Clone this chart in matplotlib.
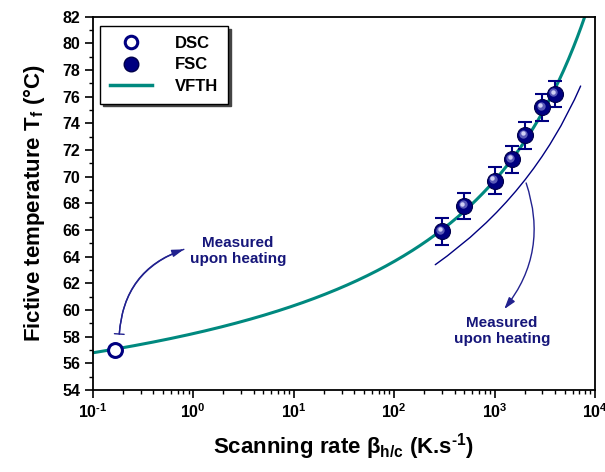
import numpy as np
import matplotlib
matplotlib.use("Agg")
import matplotlib.pyplot as plt
from matplotlib.lines import Line2D
from matplotlib import transforms

plt.rcParams['font.family'] = ['Liberation Sans', 'DejaVu Sans']
plt.rcParams['font.weight'] = 'bold'
plt.rcParams['mathtext.fontset'] = 'custom'
plt.rcParams['mathtext.rm'] = 'Liberation Sans:bold'
plt.rcParams['mathtext.it'] = 'Liberation Sans:bold'
plt.rcParams['mathtext.bf'] = 'Liberation Sans:bold'
plt.rcParams['mathtext.sf'] = 'Liberation Sans:bold'

# ---- data ----
dsc_rate = [0.167]
dsc_tf = [57.0]

fsc_rate = [300, 500, 1000, 1500, 2000, 3000, 4000]
fsc_tf = [65.9, 67.8, 69.7, 71.3, 73.1, 75.2, 76.2]
fsc_err = [1.0, 1.0, 1.0, 1.0, 1.0, 1.0, 1.0]

# VFTH fit parameters: Tf = T0 + B / (lnA - ln(beta))
vfth_T0 = 49.0
vfth_lnA = 12.46
vfth_B = 115.0

# guide line (annotation) end points
guide_rate = [257, 7190]
guide_tf = [63.4, 76.8]

xticks = [0.1, 1, 10, 100, 1000, 10000]
xtick_labels = [r'$\mathbf{10^{\text{-}1}}$', r'$\mathbf{10^{0}}$', r'$\mathbf{10^{1}}$',
                r'$\mathbf{10^{2}}$', r'$\mathbf{10^{3}}$', r'$\mathbf{10^{4}}$']
yticks = list(range(54, 83, 2))

navy = '#000080'
teal = '#00897F'
txtc = '#16167a'

fig = plt.figure(figsize=(6.05, 4.72), dpi=100)
ax = fig.add_axes([0.1532, 0.1737, 0.8303, 0.7909])

# VFTH curve
beta = np.logspace(-1, 4, 400)
tf_fit = vfth_T0 + vfth_B / (vfth_lnA - np.log(beta))
ax.plot(beta, tf_fit, color=teal, lw=2.2, zorder=2)

# DSC
ax.plot(dsc_rate, dsc_tf, 'o', ms=10, mfc='white', mec=navy, mew=2.2, zorder=4)

# FSC
ax.errorbar(fsc_rate, fsc_tf, yerr=fsc_err, fmt='none', ecolor=navy,
            elinewidth=1.5, capsize=5, capthick=1.5, zorder=3)
ax.plot(fsc_rate, fsc_tf, 'o', ms=11.5, mfc=navy, mec='#00004a', mew=0.8, zorder=4)
hl1 = transforms.offset_copy(ax.transData, fig=fig, x=-1.3, y=1.3, units='points')
ax.plot(fsc_rate, fsc_tf, 'o', ms=6, mfc='#5a5ab8', mec='none', transform=hl1, zorder=5)
hl = transforms.offset_copy(ax.transData, fig=fig, x=-1.6, y=1.6, units='points')
ax.plot(fsc_rate, fsc_tf, 'o', ms=3.2, mfc='#d0d0f4', mec='none', transform=hl, zorder=6)

# guide line
ax.annotate('', xy=(guide_rate[1], guide_tf[1]), xytext=(guide_rate[0], guide_tf[0]),
            arrowprops=dict(arrowstyle='-', color=navy, lw=1.0,
                            connectionstyle='arc3,rad=0.14',
                            shrinkA=0, shrinkB=0))

# arrow 1 (DSC -> text)
ap1 = dict(color='#22228f', lw=1.0, connectionstyle='arc3,rad=-0.33', shrinkA=0, shrinkB=0)
ax.annotate('', xy=(0.808, 64.55), xytext=(0.184, 58.2),
            arrowprops=dict(arrowstyle='-|>,head_length=0.7,head_width=0.22', **ap1))
ax.annotate('', xy=(0.808, 64.55), xytext=(0.184, 58.2),
            arrowprops=dict(arrowstyle=']-,widthA=0.35,lengthA=0', **ap1))

# arrow 2 (guide -> text)
ax.annotate('', xy=(1250, 60.07), xytext=(2062, 69.53),
            arrowprops=dict(arrowstyle='-|>,head_length=0.7,head_width=0.22',
                            color='#22228f', lw=1.0,
                            connectionstyle='arc3,rad=-0.27', shrinkA=0, shrinkB=0))

ax.text(0.289, 0.372, 'Measured\nupon heating', transform=ax.transAxes,
        ha='center', va='center', fontsize=11, color=txtc, fontweight='bold',
        linespacing=1.2)
ax.text(0.815, 0.158, 'Measured\nupon heating', transform=ax.transAxes,
        ha='center', va='center', fontsize=11, color=txtc, fontweight='bold',
        linespacing=1.2)

ax.set_xscale('log')
ax.set_xlim(0.1, 10000)
ax.set_ylim(54, 82)
ax.set_xticks(xticks)
ax.set_xticklabels(xtick_labels)
ax.set_yticks(yticks)
ax.set_yticklabels([str(v) for v in yticks])
ax.yaxis.set_minor_locator(matplotlib.ticker.MultipleLocator(1))
ax.xaxis.set_minor_locator(matplotlib.ticker.LogLocator(base=10, subs=np.arange(2, 10)))
ax.xaxis.set_minor_formatter(matplotlib.ticker.NullFormatter())
ax.tick_params(axis='both', which='major', direction='out', length=6, width=1.2,
               labelsize=11.5, top=False, right=False, pad=3)
ax.tick_params(axis='both', which='minor', direction='out', length=3, width=1.0,
               top=False, right=False)
for s in ax.spines.values():
    s.set_linewidth(1.3)

ax.set_xlabel(r'Scanning rate $\beta_{\mathrm{h/c}}$ (K.s$^{\text{-}\mathrm{1}}$)', fontsize=16,
              fontweight='bold', labelpad=7)
ax.set_ylabel(r'Fictive temperature T$_{\mathrm{f}}$ (°C)', fontsize=16,
              fontweight='bold', labelpad=11)

handles = [
    Line2D([], [], ls='none', marker='o', ms=9, mfc='white', mec=navy, mew=2.2),
    Line2D([], [], ls='none', marker='o', ms=10.5, mfc=navy, mec='#00004a'),
    Line2D([], [], color=teal, lw=2.5),
]
leg = ax.legend(handles, ['DSC', 'FSC', 'VFTH'], loc='upper left',
                bbox_to_anchor=(0.0145, 0.975), borderaxespad=0,
                fancybox=False, shadow={'color': '#444444', 'alpha': 1.0},
                frameon=True, edgecolor='black',
                handlelength=2.5, handletextpad=1.4, labelspacing=0.38,
                borderpad=0.6, prop={'weight': 'bold', 'size': 12})
leg.get_frame().set_linewidth(1.0)

fig.savefig('out.png', dpi=100)
